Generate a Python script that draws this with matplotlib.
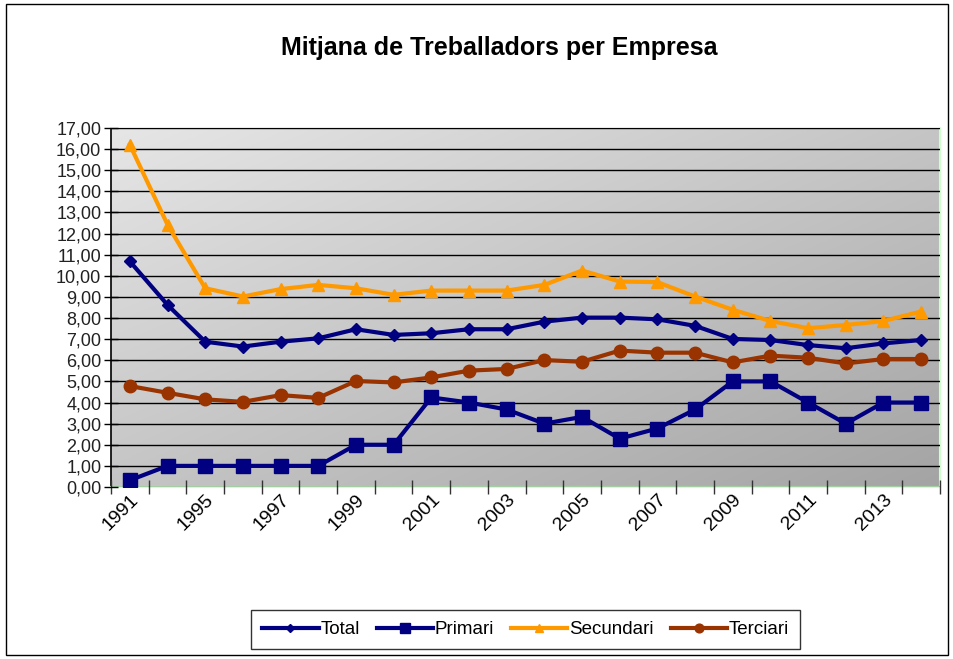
import matplotlib
matplotlib.use('Agg')
import matplotlib.pyplot as plt
import numpy as np
from matplotlib.patches import Rectangle
from matplotlib.ticker import FuncFormatter
from matplotlib.colors import LinearSegmentedColormap

plt.rcParams['font.family'] = ['Liberation Sans', 'DejaVu Sans']

# 数据
years = ['1991', '1993', '1995', '1996', '1997', '1998', '1999', '2000', '2001', '2002', '2003',
         '2004', '2005', '2006', '2007', '2008', '2009', '2010', '2011', '2012', '2013', '2014']
total = [10.68, 8.62, 6.88, 6.65, 6.88, 7.04, 7.47, 7.20, 7.28, 7.47, 7.47,
         7.83, 8.02, 8.02, 7.94, 7.63, 7.01, 6.96, 6.72, 6.57, 6.80, 6.96]
primari = [0.32, 1.0, 1.0, 1.0, 1.0, 1.0, 2.0, 2.0, 4.24, 4.0, 3.67,
           3.0, 3.32, 2.29, 2.77, 3.67, 5.0, 5.0, 4.0, 3.0, 4.0, 4.0]
secundari = [16.2, 12.42, 9.41, 9.02, 9.37, 9.57, 9.41, 9.10, 9.30, 9.30, 9.30,
             9.57, 10.25, 9.73, 9.70, 9.02, 8.39, 7.86, 7.52, 7.67, 7.86, 8.31]
terciari = [4.78, 4.46, 4.15, 4.03, 4.35, 4.22, 5.02, 4.95, 5.19, 5.51, 5.59,
            6.01, 5.93, 6.46, 6.36, 6.36, 5.90, 6.22, 6.12, 5.85, 6.06, 6.06]
labels = ['Total', 'Primari', 'Secundari', 'Terciari']

fig = plt.figure(figsize=(9.54, 6.59), dpi=100)
ax = fig.add_axes([0.1164, 0.261, 0.8689, 0.5448])

# 外边框
fig.patches.append(Rectangle((0.006, 0.006), 0.988, 0.988, transform=fig.transFigure,
                             fill=False, edgecolor='black', linewidth=1.0))

x = np.arange(len(years))
ax.set_xlim(-0.5, len(years) - 0.5)
ax.set_ylim(0, 17)

# 渐变背景（左上浅，右下深）
bg_cmap = LinearSegmentedColormap.from_list('bg', ['#e6e6e6', '#a4a4a4'])
gx, gy = np.meshgrid(np.linspace(0, 1, 200), np.linspace(0, 1, 200))
grad = (gx + gy) / 2.0
ax.imshow(grad, extent=[0, 1, 0, 1], transform=ax.transAxes, cmap=bg_cmap,
          vmin=0, vmax=1, aspect='auto', zorder=0, interpolation='bilinear')

ax.set_yticks(np.arange(0, 18, 1))
ax.yaxis.set_major_formatter(FuncFormatter(lambda v, p: f'{v:.2f}'.replace('.', ',')))
ax.grid(axis='y', color='black', linewidth=1.0, zorder=1)
ax.set_axisbelow(False)

ax.plot(x, total, color='#000080', marker='D', markersize=6, linewidth=3, label=labels[0], zorder=3)
ax.plot(x, primari, color='#000080', marker='s', markersize=10, linewidth=3, label=labels[1], zorder=3)
ax.plot(x, secundari, color='#FF9900', marker='^', markersize=9, linewidth=3, label=labels[2], zorder=3)
ax.plot(x, terciari, color='#993300', marker='o', markersize=9, linewidth=3, label=labels[3], zorder=3)

# x 轴刻度：类别之间
ax.set_xticks(np.arange(-0.5, len(years), 1.0), minor=False)
ax.set_xticklabels([])
ax.set_xticks(x[::2], minor=True)
ax.set_xticklabels(years[::2], minor=True, rotation=45, ha='right', va='top', fontsize=14,
                   rotation_mode='anchor')
ax.tick_params(axis='x', which='minor', length=0, pad=3)
ax.tick_params(axis='x', which='major', direction='inout', length=10, width=1, color='#333333')
ax.tick_params(axis='y', direction='inout', length=10, width=1, labelsize=13, pad=2)
for lbl in ax.get_yticklabels():
    lbl.set_color('#222222')

for s in ['top', 'right', 'bottom']:
    ax.spines[s].set_color('#ccffcc')
    ax.spines[s].set_linewidth(1.5)
ax.spines['left'].set_color('black')
ax.spines['left'].set_linewidth(1.2)

fig.text(0.523, 0.927, 'Mitjana de Treballadors per Empresa', ha='center', va='center',
         fontsize=18, fontweight='bold')

leg = fig.legend(loc='center', bbox_to_anchor=(0.551, 0.0445), ncol=4, frameon=True,
                 fontsize=13.5, handlelength=3.0, handletextpad=0.1, columnspacing=0.9,
                 fancybox=False, borderpad=0.6, markerscale=0.7)
leg.get_frame().set_edgecolor('black')
leg.get_frame().set_linewidth(1.0)

fig.savefig('out.png', dpi=100)
